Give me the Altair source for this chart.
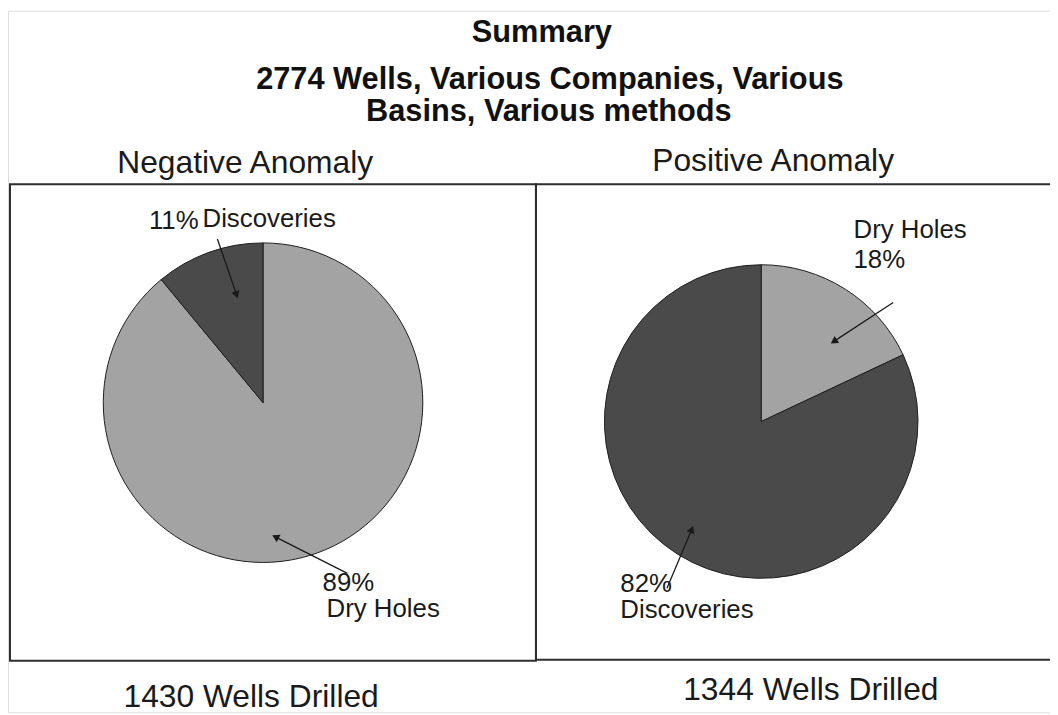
import math
import altair as alt
import pandas as pd

# ---------------- data ----------------
categories = ["Dry Holes", "Discoveries"]
negative_pct = [89, 11]          # Negative Anomaly: dry holes, discoveries
positive_pct = [18, 82]          # Positive Anomaly: dry holes, discoveries
panel_titles = ["Negative Anomaly", "Positive Anomaly"]
wells_drilled = [1430, 1344]
total_wells = 2774
title_lines = ["Summary",
               f"{total_wells} Wells, Various Companies, Various",
               "Basins, Various methods"]

# ---------------- layout / style ----------------
W, H = 1050, 707
FONT = "Liberation Sans"
slice_colors = ["#a3a3a3", "#4a4a4a"]
xs = alt.Scale(domain=[8, 1058], range=[0, W])
ys = alt.Scale(domain=[8, 715], range=[0, H])

pie_layout = [  # centre x, centre y, radius (page pixels)
    (265, 403, 161),
    (767, 422, 158),
]
box_layout = [(10, 183, 540, 663), (540, 183, 1075, 662)]


def X(f):
    return alt.X(f, type="quantitative", scale=xs, axis=None)


def Y(f):
    return alt.Y(f, type="quantitative", scale=ys, axis=None)


# boxes
box_df = pd.DataFrame(box_layout, columns=["x", "y", "x2", "y2"])
boxes = alt.Chart(box_df).mark_rect(fillOpacity=0, stroke="#2e2e2e", strokeWidth=2).encode(
    x=X("x"), y=Y("y"), x2="x2", y2="y2")


def pie(values, cx, cy, r):
    df = pd.DataFrame({"category": categories, "pct": values, "order": [0, 1]})
    return alt.Chart(df).mark_arc(stroke="#1e1e1e", strokeWidth=1).encode(
        theta=alt.Theta("pct:Q", stack=True, scale=alt.Scale(domain=[0, 100])),
        order=alt.Order("order:Q"),
        color=alt.Color("category:N",
                        scale=alt.Scale(domain=categories, range=slice_colors),
                        legend=None),
        x=alt.value(cx - 8), y=alt.value(cy - 8), radius=alt.value(r))


pies = [pie(negative_pct, *pie_layout[0]), pie(positive_pct, *pie_layout[1])]

# arrows (start -> tip)
arrow_layout = [
    (219, 238, 240, 299),
    (350, 575, 273, 536),
    (900, 302, 836, 344),
    (672, 590, 699, 526),
]
arr_rows = []
head_rows = []
for x1, y1, x2, y2 in arrow_layout:
    dx, dy = x2 - x1, y2 - y1
    L = math.hypot(dx, dy)
    ux, uy = dx / L, dy / L
    arr_rows.append({"x": x1, "y": y1, "x2": x2 - ux * 6, "y2": y2 - uy * 6})
    ang = math.degrees(math.atan2(dx, -dy)) % 360
    head_rows.append({"x": x2 - ux * 5, "y": y2 - uy * 5, "ang": ang})
arrows = alt.Chart(pd.DataFrame(arr_rows)).mark_rule(color="#1a1a1a", strokeWidth=1.3).encode(
    x=X("x"), y=Y("y"), x2="x2", y2="y2")
heads = alt.Chart(pd.DataFrame(head_rows)).mark_point(
    shape="triangle-up", filled=True, color="#1a1a1a", size=70, opacity=1).encode(
    x=X("x"), y=Y("y"), angle=alt.Angle("ang:Q", scale=None))

# titles
title_df = pd.DataFrame({
    "text": title_lines,
    "x": [546, 554, 553],
    "y": [40, 87, 119],
})
titles = alt.Chart(title_df).mark_text(
    font=FONT, fontSize=31, fontWeight="bold", align="center", baseline="alphabetic",
    color="#111").encode(x=X("x"), y=Y("y"), text="text:N")

sub_df = pd.DataFrame({
    "text": panel_titles + [f"{n} Wells Drilled" for n in wells_drilled],
    "x": [247, 779, 253, 817],
    "y": [172, 170, 710, 703],
})
subs = alt.Chart(sub_df).mark_text(
    font=FONT, fontSize=32, align="center", baseline="alphabetic", color="#1a1a1a").encode(
    x=X("x"), y=Y("y"), text="text:N")

lab_df = pd.DataFrame({
    "text": [f"{negative_pct[1]}%", categories[1],
             f"{negative_pct[0]}%", categories[0],
             categories[0], f"{positive_pct[0]}%",
             f"{positive_pct[1]}%", categories[1]],
    "x": [150, 204, 325, 329, 860, 860, 625, 625],
    "y": [228, 226, 593, 619, 237, 267, 594, 620],
})
labels = alt.Chart(lab_df).mark_text(
    font=FONT, fontSize=26, align="left", baseline="alphabetic", color="#1a1a1a").encode(
    x=X("x"), y=Y("y"), text="text:N")

chart = alt.layer(boxes, *pies, arrows, heads, titles, subs, labels).properties(
    width=W, height=H, padding=0, autosize=alt.AutoSizeParams(type="none")
).configure_view(strokeWidth=0, stroke="transparent").configure(background="white")

chart.save("out.html", embed_options={"renderer": "svg", "actions": False})
